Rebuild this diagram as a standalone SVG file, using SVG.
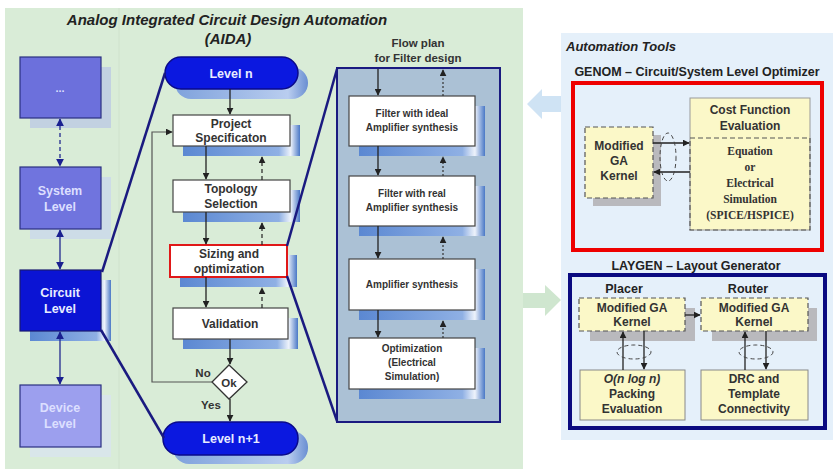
<svg xmlns="http://www.w3.org/2000/svg" width="833" height="471" viewBox="0 0 833 471">
<defs>
<style>
text{font-family:"Liberation Sans",Arial,sans-serif;font-weight:bold;text-anchor:middle;fill:#333}
.wt{fill:#e8ecff}
.lt{fill:#dcdfff}
.dk{fill:#222}
.st{text-anchor:start}
.wbox{fill:#fff;stroke:#444;stroke-width:1.2}
.sh{fill:url(#shg)}
.pill{fill:#0b18e0;stroke:#0a0a8a;stroke-width:1.5}
.pillsh{fill:url(#pillg)}
.ln{fill:none;stroke:#222;stroke-width:1.3}
.dl{fill:none;stroke:#222;stroke-width:1.2;stroke-dasharray:4,3}
.dt{fill:none;stroke:#333;stroke-width:1.2;stroke-dasharray:2,2}
.nv{fill:none;stroke:#1a1a80;stroke-width:2.5}
.lv{fill:none;stroke:#222a90;stroke-width:1.3}
.yb{fill:#fbf8c8;stroke:#555;stroke-width:1.2;stroke-dasharray:5,3}
.ys{fill:#fbf8c8;stroke:#888;stroke-width:1}
.gs{fill:#b9b9bd}
.ser{font-family:"Liberation Serif","Times New Roman",serif;font-size:11.5px}
</style>
<linearGradient id="shg" x1="0" y1="0" x2="1" y2="0">
<stop offset="0" stop-color="#5b88d2"/>
<stop offset="0.82" stop-color="#8fb0e4"/>
<stop offset="0.92" stop-color="#eef3fb"/>
<stop offset="1" stop-color="#4a78c6"/>
</linearGradient>
<linearGradient id="pillg" x1="0" y1="0" x2="1" y2="0">
<stop offset="0" stop-color="#7fa2dc"/>
<stop offset="0.85" stop-color="#b9cdef"/>
<stop offset="1" stop-color="#6a8fd2"/>
</linearGradient>
<marker id="a" viewBox="0 0 10 10" refX="9" refY="5" markerWidth="7" markerHeight="7" orient="auto-start-reverse" markerUnits="userSpaceOnUse">
<path d="M0,0 L10,5 L0,10 z" fill="#222"/>
</marker>
<marker id="b" viewBox="0 0 10 10" refX="9" refY="5" markerWidth="8" markerHeight="8" orient="auto-start-reverse" markerUnits="userSpaceOnUse">
<path d="M0,0 L10,5 L0,10 z" fill="#1a2090"/>
</marker>
</defs>

<!-- backgrounds -->
<rect x="5" y="8" width="518" height="461" fill="#d9ecd7"/>
<line x1="119" y1="8" x2="119" y2="469" stroke="#cfe2cc" stroke-width="1"/>
<rect x="561" y="33" width="272" height="407" fill="#e5f0fa"/>
<path d="M527,104 L542,89 L542,96 L561,96 L561,112 L542,112 L542,119 Z" fill="#cfe3f4"/>
<path d="M561,300 L545,285 L545,293 L523,293 L523,308 L545,308 L545,316 Z" fill="#cfe6cf"/>

<text x="227" y="25" font-size="15" font-style="italic" class="dk">Analog Integrated Circuit Design Automation</text>
<text x="228" y="44" font-size="15" font-style="italic" class="dk">(AIDA)</text>

<!-- left column -->
<g id="dots">
<rect x="30" y="67" width="81" height="61" fill="#b8c6e6" opacity="0.7"/>
<rect x="20" y="57" width="81" height="61" fill="#6c70dc" stroke="#2a3080" stroke-width="1.2"/>
<text x="60" y="92" font-size="11" class="lt">...</text>
</g>
<g id="system">
<rect x="30" y="177" width="81" height="62" fill="#c8d6ee" opacity="0.7"/>
<rect x="20" y="167" width="81" height="62" fill="#7074de" stroke="#2a3080" stroke-width="1.2"/>
<text x="60" y="195" font-size="12.5" class="lt">System</text>
<text x="60" y="211" font-size="12.5" class="lt">Level</text>
</g>
<g id="circuit">
<rect x="30" y="280" width="81" height="61" fill="url(#shg)"/>
<rect x="20" y="270" width="81" height="61" fill="#0b14d4" stroke="#1a1a70" stroke-width="1.2"/>
<text x="60" y="297" font-size="12.5" class="wt">Circuit</text>
<text x="60" y="313" font-size="12.5" class="wt">Level</text>
</g>
<g id="device">
<rect x="30" y="395" width="81" height="62" fill="#d8e4f2" opacity="0.7"/>
<rect x="20" y="385" width="81" height="62" fill="#9c9fee" stroke="#2a3080" stroke-width="1.2"/>
<text x="60" y="412" font-size="12.5" class="lt">Device</text>
<text x="60" y="428" font-size="12.5" class="lt">Level</text>
</g>

<!-- middle flow -->
<g id="leveln">
<rect x="175" y="67" width="133" height="32" rx="16" class="pillsh"/>
<rect x="165" y="57" width="133" height="32" rx="16" class="pill"/>
<text x="231" y="78" font-size="12.5" class="wt">Level n</text>
</g>
<g id="projspec">
<rect x="183" y="125" width="117" height="31" class="sh"/>
<rect x="173" y="115" width="117" height="31" class="wbox"/>
<text x="231" y="128" font-size="12">Project</text>
<text x="231" y="142" font-size="12">Specificaton</text>
</g>
<g id="topology">
<rect x="183" y="190" width="117" height="32" class="sh"/>
<rect x="173" y="180" width="117" height="32" class="wbox"/>
<text x="231" y="193" font-size="12">Topology</text>
<text x="231" y="208" font-size="12">Selection</text>
</g>
<g id="sizing">
<rect x="180" y="255" width="117" height="32" class="sh"/>
<rect x="170" y="245" width="117" height="32" fill="#fff" stroke="#e01818" stroke-width="2"/>
<text x="229" y="258" font-size="12">Sizing and</text>
<text x="229" y="273" font-size="12">optimization</text>
</g>
<g id="validation">
<rect x="183" y="318" width="115" height="31" class="sh"/>
<rect x="173" y="308" width="115" height="31" class="wbox"/>
<text x="230" y="328" font-size="12">Validation</text>
</g>
<g id="ok">
<path d="M229,365 L247,382 L229,399 L212,382 Z" fill="#fff" stroke="#333" stroke-width="1.3"/>
<text x="229" y="387" font-size="11.5">Ok</text>
</g>
<text x="203" y="377" font-size="11.5">No</text>
<text x="211" y="409" font-size="11.5">Yes</text>
<g id="leveln1">
<rect x="173" y="431" width="135" height="33" rx="16" class="pillsh"/>
<rect x="163" y="422" width="135" height="33" rx="16" class="pill"/>
<text x="231" y="443" font-size="12.5" class="wt">Level n+1</text>
</g>

<!-- flow plan panel -->
<text x="418" y="47" font-size="11.5">Flow plan</text>
<text x="418" y="62" font-size="11.5">for Filter design</text>
<g id="flowpanel">
<rect x="337" y="68" width="163" height="354" fill="#abc1d5" stroke="#1a1a80" stroke-width="2"/>
</g>
<g id="fideal">
<rect x="359" y="106" width="126" height="50" class="sh"/>
<rect x="349" y="96" width="126" height="50" class="wbox"/>
<text x="412" y="117" font-size="10">Filter with ideal</text>
<text x="412" y="131" font-size="10">Amplifier synthesis</text>
</g>
<g id="freal">
<rect x="359" y="186" width="126" height="50" class="sh"/>
<rect x="349" y="176" width="126" height="50" class="wbox"/>
<text x="412" y="197" font-size="10">Filter with real</text>
<text x="412" y="211" font-size="10">Amplifier synthesis</text>
</g>
<g id="amp">
<rect x="359" y="269" width="126" height="51" class="sh"/>
<rect x="349" y="259" width="126" height="51" class="wbox"/>
<text x="412" y="288" font-size="10">Amplifier synthesis</text>
</g>
<g id="optim">
<rect x="359" y="348" width="126" height="51" class="sh"/>
<rect x="349" y="338" width="126" height="51" class="wbox"/>
<text x="412" y="352" font-size="10">Optimization</text>
<text x="412" y="366" font-size="10">(Electrical</text>
<text x="412" y="380" font-size="10">Simulation)</text>
</g>

<!-- right panel -->
<text x="566" y="51" font-size="13" font-style="italic" class="dk st">Automation Tools</text>
<text x="697" y="76" font-size="12.5" class="dk">GENOM – Circuit/System Level Optimizer</text>
<g id="genom">
<rect x="573" y="83" width="249" height="167" fill="none" stroke="#e00" stroke-width="4"/>
</g>
<g id="gakernel">
<rect x="593" y="135" width="68" height="71" class="gs"/>
<rect x="585" y="127" width="68" height="71" class="yb"/>
<text x="619" y="150" font-size="12">Modified</text>
<text x="619" y="165" font-size="12">GA</text>
<text x="619" y="180" font-size="12">Kernel</text>
</g>
<g id="costfn">
<rect x="690" y="98" width="120" height="132" fill="#fbf8c8" stroke="#999" stroke-width="1"/>
<rect x="690" y="138" width="120" height="92" fill="none" stroke="#555" stroke-width="1.2" stroke-dasharray="5,3"/>
<text x="750" y="114" font-size="12">Cost Function</text>
<text x="750" y="130" font-size="12">Evaluation</text>
<text x="750" y="155" class="ser">Equation</text>
<text x="750" y="171" class="ser">or</text>
<text x="750" y="187" class="ser">Electrical</text>
<text x="750" y="203" class="ser">Simulation</text>
<text x="750" y="219" class="ser">(SPICE/HSPICE)</text>
</g>

<text x="696" y="270" font-size="12.5" class="dk">LAYGEN – Layout Generator</text>
<g id="laygen">
<rect x="570" y="275" width="255" height="153" fill="none" stroke="#0a0a80" stroke-width="4"/>
</g>
<text x="624" y="293" font-size="12.5" class="dk">Placer</text>
<text x="748" y="293" font-size="12.5" class="dk">Router</text>
<g id="placerga">
<rect x="590" y="308" width="105" height="33" class="gs"/>
<rect x="579" y="298" width="106" height="33" class="yb"/>
<text x="632" y="312" font-size="12">Modified GA</text>
<text x="632" y="326" font-size="12">Kernel</text>
</g>
<g id="routerga">
<rect x="712" y="308" width="105" height="33" class="gs"/>
<rect x="701" y="298" width="107" height="33" class="yb"/>
<text x="754" y="312" font-size="12">Modified GA</text>
<text x="754" y="326" font-size="12">Kernel</text>
</g>
<g id="packing">
<rect x="580" y="370" width="105" height="50" class="ys"/>
<text x="632" y="383" font-size="12" font-style="italic">O(n log n)</text>
<text x="632" y="398" font-size="12">Packing</text>
<text x="632" y="413" font-size="12">Evaluation</text>
</g>
<g id="drc">
<rect x="701" y="370" width="107" height="50" class="ys"/>
<text x="754" y="383" font-size="12">DRC and</text>
<text x="754" y="398" font-size="12">Template</text>
<text x="754" y="413" font-size="12">Connectivity</text>
</g>

<!-- connectors -->
<g id="connectors">
<line x1="60" y1="119" x2="60" y2="166" class="lv" stroke-dasharray="4,3" marker-start="url(#b)" marker-end="url(#b)"/>
<line x1="60" y1="230" x2="60" y2="269" class="lv" marker-start="url(#b)" marker-end="url(#b)"/>
<line x1="60" y1="332" x2="60" y2="384" class="lv" marker-start="url(#b)" marker-end="url(#b)"/>
<line x1="102" y1="272" x2="165" y2="73" class="nv"/>
<line x1="101" y1="330" x2="164" y2="438" class="nv"/>
<line x1="287" y1="246" x2="337" y2="69" class="nv"/>
<line x1="287" y1="276" x2="337" y2="421" class="nv"/>

<line x1="230" y1="89" x2="230" y2="114" class="ln" marker-end="url(#a)"/>
<line x1="206" y1="146" x2="206" y2="179" class="ln" marker-end="url(#a)"/>
<line x1="206" y1="212" x2="206" y2="244" class="ln" marker-end="url(#a)"/>
<line x1="206" y1="277" x2="206" y2="307" class="ln" marker-end="url(#a)"/>
<line x1="230" y1="339" x2="230" y2="364" class="ln" marker-end="url(#a)"/>
<line x1="230" y1="399" x2="230" y2="421" class="ln" marker-end="url(#a)"/>
<line x1="262" y1="180" x2="262" y2="157" class="dl" marker-end="url(#a)"/>
<line x1="262" y1="245" x2="262" y2="223" class="dl" marker-end="url(#a)"/>
<line x1="262" y1="308" x2="262" y2="288" class="dl" marker-end="url(#a)"/>
<polyline points="212,382 152,382 152,132 172,132" fill="none" stroke="#555" stroke-width="1.2" marker-end="url(#a)"/>

<line x1="378" y1="69" x2="378" y2="95" class="ln" marker-end="url(#a)"/>
<line x1="378" y1="146" x2="378" y2="175" class="ln" marker-end="url(#a)"/>
<line x1="378" y1="226" x2="378" y2="258" class="ln" marker-end="url(#a)"/>
<line x1="378" y1="310" x2="378" y2="337" class="ln" marker-end="url(#a)"/>
<line x1="443" y1="96" x2="443" y2="70" class="dt" marker-end="url(#a)"/>
<line x1="443" y1="176" x2="443" y2="157" class="dt" marker-end="url(#a)"/>
<line x1="443" y1="259" x2="443" y2="237" class="dt" marker-end="url(#a)"/>
<line x1="443" y1="338" x2="443" y2="321" class="dt" marker-end="url(#a)"/>

<line x1="653" y1="143" x2="689" y2="143" class="ln" marker-end="url(#a)"/>
<line x1="690" y1="172" x2="654" y2="172" class="ln" marker-end="url(#a)"/>
<ellipse cx="668" cy="157" rx="8" ry="24" fill="none" stroke="#444" stroke-width="1" stroke-dasharray="4,3"/>

<line x1="685" y1="315" x2="700" y2="315" class="ln" marker-end="url(#a)"/>
<line x1="623" y1="370" x2="623" y2="332" class="ln" marker-end="url(#a)"/>
<line x1="644" y1="331" x2="644" y2="369" class="ln" marker-end="url(#a)"/>
<ellipse cx="634" cy="352" rx="17" ry="7" fill="none" stroke="#444" stroke-width="1" stroke-dasharray="4,3"/>
<line x1="745" y1="370" x2="745" y2="332" class="ln" marker-end="url(#a)"/>
<line x1="766" y1="331" x2="766" y2="369" class="ln" marker-end="url(#a)"/>
<ellipse cx="756" cy="352" rx="17" ry="7" fill="none" stroke="#444" stroke-width="1" stroke-dasharray="4,3"/>
</g>
</svg>
